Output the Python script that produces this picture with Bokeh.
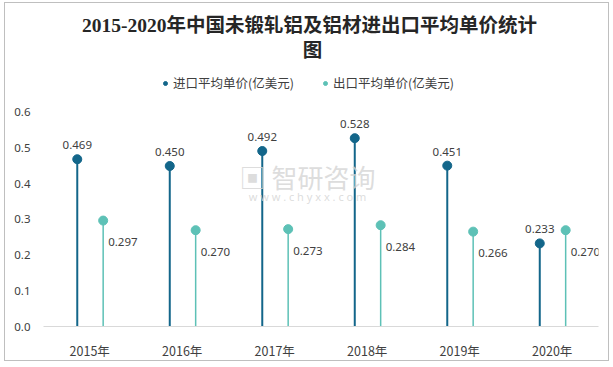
from bokeh.plotting import figure
from bokeh.models import (ColumnDataSource, LabelSet, Label, Legend, LegendItem,
                          FixedTicker, Range1d, CustomJSTickFormatter)
from bokeh.core.properties import value
from bokeh.embed import file_html
from bokeh.resources import INLINE

years = ["2015年", "2016年", "2017年", "2018年", "2019年", "2020年"]
import_price = [0.469, 0.450, 0.492, 0.528, 0.451, 0.233]
export_price = [0.297, 0.270, 0.273, 0.284, 0.266, 0.270]
import_name = "进口平均单价(亿美元)"
export_name = "出口平均单价(亿美元)"
title_line1 = "2015-2020年中国未锻轧铝及铝材进出口平均单价统计"
title_line2 = "图"
y_ticks = [0.0, 0.1, 0.2, 0.3, 0.4, 0.5, 0.6]

IMP_C = "#13668a"
EXP_C = "#5dc1b6"

idx = list(range(len(years)))
imp_x = [i - 0.135 for i in idx]
exp_x = [i + 0.145 for i in idx]

src_i = ColumnDataSource(dict(x=imp_x, y=import_price, lab=[f"{v:.3f}" for v in import_price]))
src_e = ColumnDataSource(dict(x=exp_x, y=export_price, lab=[f"{v:.3f}" for v in export_price]))

p = figure(width=605, height=359, output_backend="svg", toolbar_location=None,
           x_range=Range1d(-0.5, 5.5), y_range=Range1d(0, 0.9056),
           min_border_left=38, min_border_right=12, min_border_top=0, min_border_bottom=36)
p.styles = {"border": "1px solid #bfbfbf", "margin-left": "4px", "margin-top": "2px"}
p.outline_line_color = None
p.grid.visible = False
p.background_fill_color = "white"

# stems
p.segment(x0="x", y0=0, x1="x", y1="y", source=src_i, line_color=IMP_C, line_width=2)
p.segment(x0="x", y0=0, x1="x", y1="y", source=src_e, line_color=EXP_C, line_width=1.5)
ri = p.scatter("x", "y", source=src_i, size=9, fill_color=IMP_C, line_color=IMP_C)
re = p.scatter("x", "y", source=src_e, size=9, fill_color=EXP_C, line_color=EXP_C)

p.add_layout(LabelSet(x="x", y="y", text="lab", source=src_i, text_align="center",
                      text_baseline="middle", y_offset=14, text_font_size="11.5px",
                      text_font=value("Noto Sans"), text_color="#404040"))
p.add_layout(LabelSet(x="x", y="y", text="lab", source=src_e, text_align="left",
                      text_baseline="middle", x_offset=5, y_offset=-21.5, text_font_size="11.5px",
                      text_font=value("Noto Sans"), text_color="#404040"))

# axes
p.xaxis.ticker = FixedTicker(ticks=idx)
p.xaxis.major_label_overrides = {i: y for i, y in enumerate(years)}
p.xaxis.axis_line_color = "#d9d9d9"
p.xaxis.major_tick_line_color = None
p.xaxis.minor_tick_line_color = None
p.xaxis.major_tick_out = 0
p.xaxis.major_tick_in = 0
p.xaxis.major_label_standoff = 14
p.xaxis.major_label_text_font = "Noto Sans CJK SC"
p.xaxis.major_label_text_font_size = "12.5px"
p.xaxis.major_label_text_color = "#404040"

p.yaxis.ticker = FixedTicker(ticks=y_ticks)
p.yaxis.formatter = CustomJSTickFormatter(code="return tick.toFixed(1);")
p.yaxis.axis_line_color = None
p.yaxis.major_tick_line_color = None
p.yaxis.minor_tick_line_color = None
p.yaxis.major_tick_out = 0
p.yaxis.major_tick_in = 0
p.yaxis.major_label_standoff = 13
p.yaxis.major_label_text_font = "Noto Sans"
p.yaxis.major_label_text_font_size = "11.5px"
p.yaxis.major_label_text_color = "#404040"

# title
TF = "Liberation Serif, Noto Sans CJK SC"
p.add_layout(Label(x=266, y=301, x_units="screen", y_units="screen", text=title_line1,
                   text_align="center", text_baseline="middle", text_font=TF,
                   text_font_size="19.5px", text_font_style="bold", text_color="#262626"))
p.add_layout(Label(x=269, y=276, x_units="screen", y_units="screen", text=title_line2,
                   text_align="center", text_baseline="middle", text_font=TF,
                   text_font_size="19.5px", text_font_style="bold", text_color="#262626"))

# watermark
p.add_layout(Label(x=264, y=150, x_units="screen", y_units="screen", text="▣ 智研咨询",
                   text_align="center", text_baseline="middle", text_font="Noto Sans CJK SC",
                   text_font_size="26px", text_color="#d4d4d4", text_alpha=0.8))
p.add_layout(Label(x=264, y=130, x_units="screen", y_units="screen", text="w w w . c h y x x . c o m",
                   text_align="center", text_baseline="middle", text_font="Noto Sans",
                   text_font_size="11px", text_color="#d4d4d4", text_alpha=0.8))

legend = Legend(items=[LegendItem(label=import_name, renderers=[ri]),
                       LegendItem(label=export_name, renderers=[re])],
                location=(117, 234), orientation="horizontal",
                glyph_width=10, glyph_height=14, label_standoff=3, spacing=26,
                padding=0, margin=0, border_line_color=None, background_fill_alpha=0,
                label_text_font="Noto Sans CJK SC", label_text_font_size="12.5px",
                label_text_color="#404040", label_height=14)
p.add_layout(legend)

open("out.html", "w").write(file_html(p, INLINE))
